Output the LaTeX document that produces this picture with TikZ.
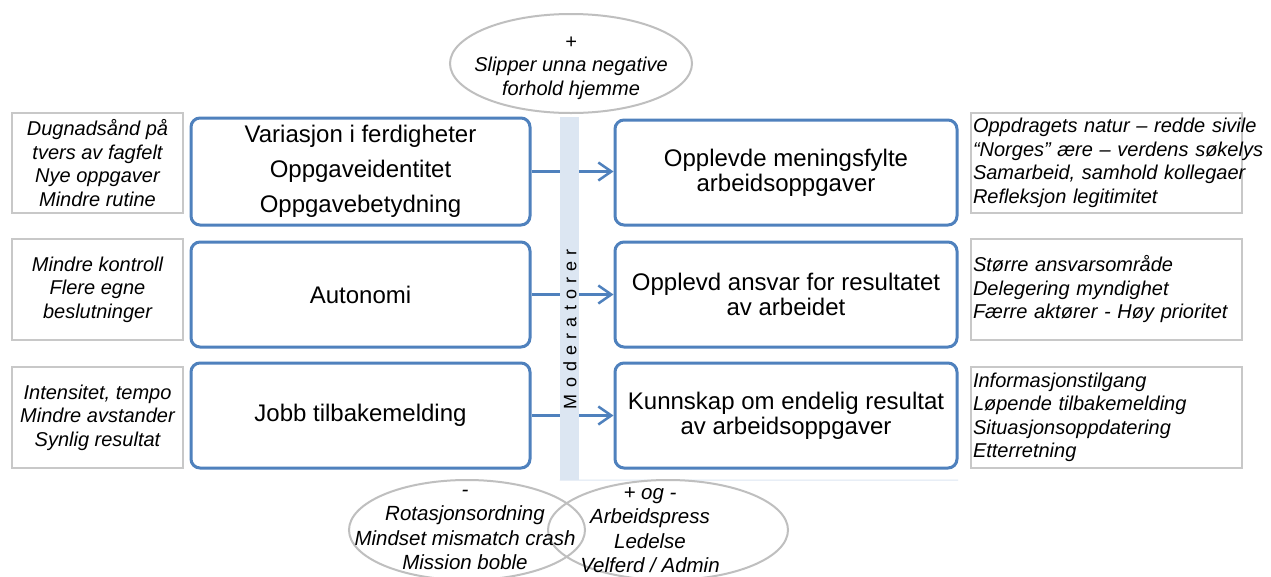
\documentclass[tikz,border=0pt]{standalone}
\usepackage{fontspec}
\setmainfont{Liberation Sans}
\usetikzlibrary{arrows.meta,shapes.geometric}
\definecolor{boxblue}{HTML}{4F81BD}
\definecolor{boxgray}{HTML}{C8C8C8}
\definecolor{ellgray}{HTML}{BFBFBF}
\definecolor{barblue}{HTML}{DCE6F2}
\newcommand\lsp{\kern6.2pt}
\begin{document}
\begin{tikzpicture}[x=1pt,y=-1pt,
  mainbox/.style={draw=boxblue, line width=3pt, rounded corners=9pt, minimum height=105pt, inner sep=0pt, align=center, font=\fontsize{24}{25}\selectfont},
  notebox/.style={draw=boxgray, line width=2.5pt, minimum height=100pt, inner sep=0pt, font=\fontsize{20}{23.5}\selectfont\itshape},
  ellbox/.style={draw=ellgray, line width=2pt, ellipse, inner sep=0pt},
  elltext/.style={align=center, inner sep=0pt, font=\fontsize{20}{23.5}\selectfont\itshape},
  conn/.style={draw=boxblue, line width=2.5pt},
  tip/.style={-{Straight Barb[length=13pt,width=18pt]}}
]
\fill[white] (0,0) rectangle (1271,576);
\useasboundingbox (0,0) rectangle (1271,576);

% moderator bar
\node (bar) [fill=barblue, minimum width=19pt, minimum height=363pt, inner sep=0pt] at (569.5,298.5) {};
\coordinate (barline) at (958,480);
\draw[barblue, line width=1pt] (bar.south west) -- (barline);
\node (mod) [rotate=90, inner sep=0pt, font=\fontsize{18}{18}\selectfont] at (570,329)
  {M\lsp o\lsp d\lsp e\lsp r\lsp a\lsp t\lsp o\lsp r\lsp e\lsp r};

% left note boxes
\node (ln1) [notebox, minimum width=171pt, align=center] at (97.5,163) {Dugnadsånd på\\tvers av fagfelt\\Nye oppgaver\\Mindre rutine};
\node (ln2) [notebox, minimum width=171pt, minimum height=101pt, align=center] at (97.5,289.5) {Mindre kontroll\\Flere egne\\beslutninger};
\node (ln3) [notebox, minimum width=171pt, minimum height=101pt, align=center] at (97.5,417.5) {Intensitet, tempo\\Mindre avstander\\Synlig resultat};

% left main boxes
\node (lb1) [mainbox, minimum width=339pt, minimum height=107pt, font=\fontsize{24}{35}\selectfont] at (360.5,171.5) {Variasjon i ferdigheter\\Oppgaveidentitet\\Oppgavebetydning};
\node (lb2) [mainbox, minimum width=339pt] at (360.5,294.5) {Autonomi};
\node (lb3) [mainbox, minimum width=339pt] at (360.5,415.5) {Jobb tilbakemelding};

% right main boxes
\node (rb1) [mainbox, minimum width=342pt] at (786,172.5) {Opplevde meningsfylte\\arbeidsoppgaver};
\node (rb2) [mainbox, minimum width=342pt] at (786,294.5) {Opplevd ansvar for resultatet\\av arbeidet};
\node (rb3) [mainbox, minimum width=342pt] at (786,415.5) {Kunnskap om endelig resultat\\av arbeidsoppgaver};

% right note boxes
\node (rn1) [notebox, minimum width=271pt, inner xsep=2pt, text width=267pt, align=left] at (1106.5,163) {\mbox{Oppdragets natur – redde sivile}\\\mbox{“Norges” ære – verdens søkelys}\\\mbox{Samarbeid, samhold kollegaer}\\\mbox{Refleksjon legitimitet}};
\node (rn2) [notebox, minimum width=271pt, minimum height=101pt, inner xsep=2pt, text width=267pt, align=left] at (1106.5,289.5) {\mbox{Større ansvarsområde}\\\mbox{Delegering myndighet}\\\mbox{Færre aktører - Høy prioritet}};
\node (rn3) [notebox, minimum width=271pt, minimum height=101pt, inner xsep=2pt, text width=267pt, align=left] at (1106.5,417.5) {\mbox{Informasjonstilgang}\\\mbox{Løpende tilbakemelding}\\\mbox{Situasjonsoppdatering}\\\mbox{Etterretning}};

% connectors
\foreach \i in {1,2,3}{
  \draw[conn] (lb\i.east) -- (lb\i.east -| bar.west);
  \draw[conn, tip] (lb\i.east -| bar.east) -- (lb\i.east -| rb\i.west);
}

% top ellipse
\node (topE) [ellbox, minimum width=242pt, minimum height=99pt] at (571,63.5) {};
\node (topT) [elltext] at (571,68) {+\\Slipper unna negative\\forhold hjemme};

% bottom ellipses
\node (botL) [ellbox, minimum width=236pt, minimum height=100pt] at (467,530) {};
\node (botR) [ellbox, minimum width=240pt, minimum height=100pt] at (668,530) {};
\node (botLT) [elltext, font=\fontsize{20.5}{24.5}\selectfont\itshape] at (465,530) {-\\Rotasjonsordning\\Mindset mismatch crash\\Mission boble};
\node (botRT) [elltext, font=\fontsize{20.5}{24.5}\selectfont\itshape] at (650,530) {+ og -\\Arbeidspress\\Ledelse\\Velferd / Admin};
\end{tikzpicture}
\end{document}
